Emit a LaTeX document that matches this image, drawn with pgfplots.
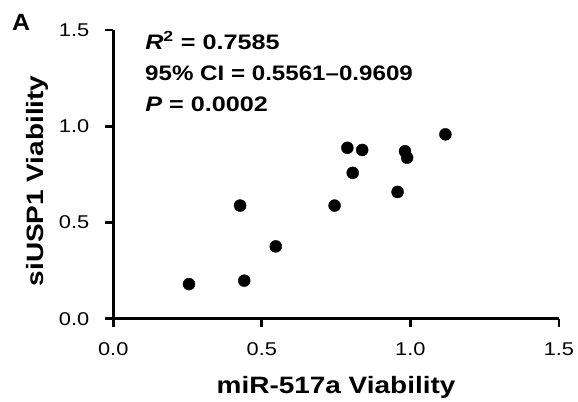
\documentclass[border=0pt]{standalone}
\usepackage{fontspec}
\setmainfont{Liberation Sans}
\usepackage{pgfplots}
\pgfplotsset{compat=1.18}
\begin{document}
\begin{tikzpicture}
\begin{axis}[
  scale only axis, width=446pt, height=289pt,
  xmin=0, xmax=1.5, ymin=0, ymax=1.5,
  axis x line*=bottom, axis y line*=left,
  xtick={0,0.5,1,1.5}, ytick={0,0.5,1,1.5},
  /pgf/number format/assume math mode=true,
  /pgf/number format/fixed, /pgf/number format/fixed zerofill, /pgf/number format/precision=1,
  tick align=outside, major tick length=8pt,
  every tick/.style={line width=2.8pt, black},
  axis line style={line width=3pt, black},
  ticklabel style={font=\fontsize{18.5}{20}\selectfont, xscale=1.18},
  xticklabel style={yshift=-12pt},
  yticklabel style={xshift=-10pt},
  xlabel={\textbf{miR-517a Viability}},
  ylabel={\textbf{siUSP1 Viability}},
  label style={font=\fontsize{23.7}{25}\selectfont},
  xlabel style={at={(axis description cs:0.5,-0.2595)}, anchor=base, xscale=1.18},
  ylabel style={at={(axis description cs:-0.157,0.4775)}, anchor=base, xscale=1.18},
  clip=false,
]
\addplot[only marks, mark=*, mark size=6pt, black] coordinates {
 (0.255,0.180) (0.441,0.198) (0.427,0.588) (0.547,0.376)
 (0.745,0.588) (0.788,0.888) (0.838,0.877) (0.806,0.758)
 (0.957,0.659) (0.982,0.870) (0.989,0.837) (1.118,0.958)
};
\node[anchor=base west, font=\bfseries\fontsize{21}{23}\selectfont, inner sep=0pt, xscale=1.2] at (axis cs:0.107,1.399) {\textit{R}\textsuperscript{2} = 0.7585};
\node[anchor=base west, font=\bfseries\fontsize{21}{23}\selectfont, inner sep=0pt, xscale=1.15] at (axis cs:0.107,1.237) {95\% CI = 0.5561--0.9609};
\node[anchor=base west, font=\bfseries\fontsize{21}{23}\selectfont, inner sep=0pt, xscale=1.2] at (axis cs:0.107,1.078) {\textit{P} = 0.0002};
\node[anchor=base west, font=\bfseries\fontsize{23.5}{25}\selectfont, inner sep=0pt, xscale=1.06] at (axis cs:-0.341,1.498) {A};
\end{axis}
\path (current axis.south west) ++(-113.3pt,-79pt) rectangle ++(578pt,398pt);
\end{tikzpicture}
\end{document}
